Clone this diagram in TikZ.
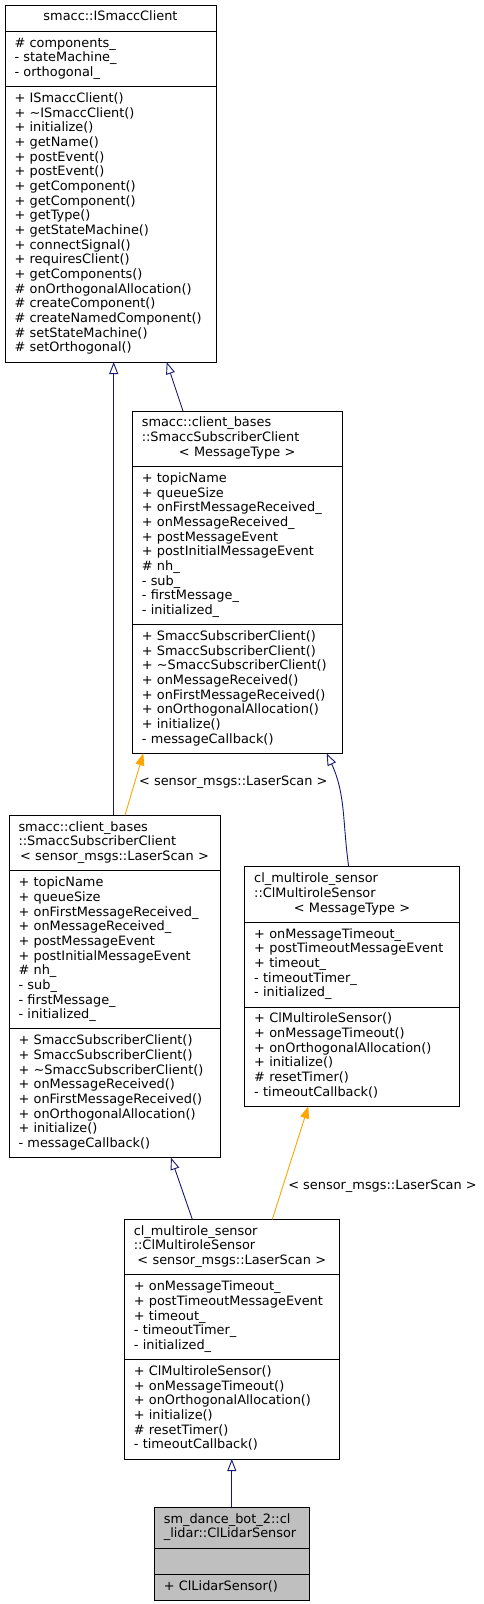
\documentclass[tikz,border=0pt]{standalone}
\usepackage{fontspec}
\setmainfont{DejaVu Sans}
\usetikzlibrary{arrows.meta,shapes.multipart}
\definecolor{edgeblue}{RGB}{25,25,112}
\definecolor{tplorange}{RGB}{255,165,0}
\definecolor{curgray}{RGB}{191,191,191}
\tikzset{
  cls/.style={draw=black,line width=0.9pt,rectangle split,rectangle split parts=3,anchor=north west,
    inner xsep=9.5pt,inner ysep=5.27pt,outer sep=0pt,align=left,font=\fontsize{12.9}{14.67}\selectfont},
  cur/.style={cls,fill=curgray},
  inh/.style={edgeblue,line width=0.9pt,-{Triangle[open,length=12pt,width=9pt]}},
  tpl/.style={tplorange,line width=0.9pt,-{Triangle[length=12pt,width=9pt]}},
  tlab/.style={font=\fontsize{12.9}{14.67}\selectfont,inner sep=0pt}
}
\newcommand{\ctr}[1]{\makebox[\linewidth]{#1}}
\newcommand{\subattrs}{\strut+ topicName\\+ queueSize\\+ onFirstMessageReceived\_\\+ onMessageReceived\_\\+ postMessageEvent\\+ postInitialMessageEvent\\\# nh\_\\- sub\_\\- firstMessage\_\\- initialized\_\strut}
\newcommand{\submeths}{\strut+ SmaccSubscriberClient()\\+ SmaccSubscriberClient()\\+ \textasciitilde SmaccSubscriberClient()\\+ onMessageReceived()\\+ onFirstMessageReceived()\\+ onOrthogonalAllocation()\\+ initialize()\\- messageCallback()\strut}
\newcommand{\mrsattrs}{\strut+ onMessageTimeout\_\\+ postTimeoutMessageEvent\\+ timeout\_\\- timeoutTimer\_\\- initialized\_\strut}
\newcommand{\mrsmeths}{\strut+ ClMultiroleSensor()\\+ onMessageTimeout()\\+ onOrthogonalAllocation()\\+ initialize()\\\# resetTimer()\\- timeoutCallback()\strut}
\begin{document}
\begin{tikzpicture}[x=1pt,y=-1pt]
  \useasboundingbox (0,0) rectangle (483,1604);
  % classes
  \node[cls,text width=192] (isc) at (5,5) {\strut\ctr{smacc::ISmaccClient}
    \nodepart{two}\strut\# components\_\\- stateMachine\_\\- orthogonal\_\strut
    \nodepart{three}\strut+ ISmaccClient()\\+ \textasciitilde ISmaccClient()\\+ initialize()\\+ getName()\\+ postEvent()\\+ postEvent()\\+ getComponent()\\+ getComponent()\\+ getType()\\+ getStateMachine()\\+ connectSignal()\\+ requiresClient()\\+ getComponents()\\\# onOrthogonalAllocation()\\\# createComponent()\\\# createNamedComponent()\\\# setStateMachine()\\\# setOrthogonal()\strut};
  \node[cls,text width=190.7] (ssc) at (132.3,411) {\strut smacc::client\_bases\\::SmaccSubscriberClient\\\ctr{< MessageType >}\strut
    \nodepart{two}\subattrs \nodepart{three}\submeths};
  \node[cls,text width=192] (sscl) at (9,815.3) {\strut smacc::client\_bases\\::SmaccSubscriberClient\\\ctr{< sensor\_msgs::LaserScan >}\strut
    \nodepart{two}\subattrs \nodepart{three}\submeths};
  \node[cls,text width=195.6] (mrs) at (244.7,866.7) {\strut cl\_multirole\_sensor\\::ClMultiroleSensor\\\ctr{< MessageType >}\strut
    \nodepart{two}\mrsattrs \nodepart{three}\mrsmeths};
  \node[cls,text width=196] (mrsl) at (124.3,1219.3) {\strut cl\_multirole\_sensor\\::ClMultiroleSensor\\\ctr{< sensor\_msgs::LaserScan >}\strut
    \nodepart{two}\mrsattrs \nodepart{three}\mrsmeths};
  \node[cur,text width=136] (lidar) at (154.3,1507.3) {\strut sm\_dance\_bot\_2::cl\\\_lidar::ClLidarSensor\strut
    \nodepart{two}\strut \nodepart{three}\strut+ ClLidarSensor()};
  % edges
  \draw[inh] ([xshift=50.7]ssc.north west) -- ([xshift=161.7]isc.south west);
  \draw[inh] ([xshift=104.7]sscl.north west) -- ([xshift=104.7]sscl.north west |- isc.south);
  \draw[tpl] ([xshift=116]sscl.north west) -- ([xshift=11]ssc.south west);
  \node[tlab] (sscllab) at (233.3,782.7) {< sensor\_msgs::LaserScan >};
  \draw[inh] ([xshift=104]mrs.north west) to[out=98,in=-65] ([xshift=194.4]ssc.south west);
  \draw[inh] ([xshift=68]mrsl.north west) -- ([xshift=162]sscl.south west);
  \draw[tpl] ([xshift=148]mrsl.north west) -- ([xshift=63.6]mrs.south west);
  \node[tlab] (mrsllab) at (382.5,1186.7) {< sensor\_msgs::LaserScan >};
  \draw[inh] (lidar.north) -- (mrsl.south);
\end{tikzpicture}
\end{document}
